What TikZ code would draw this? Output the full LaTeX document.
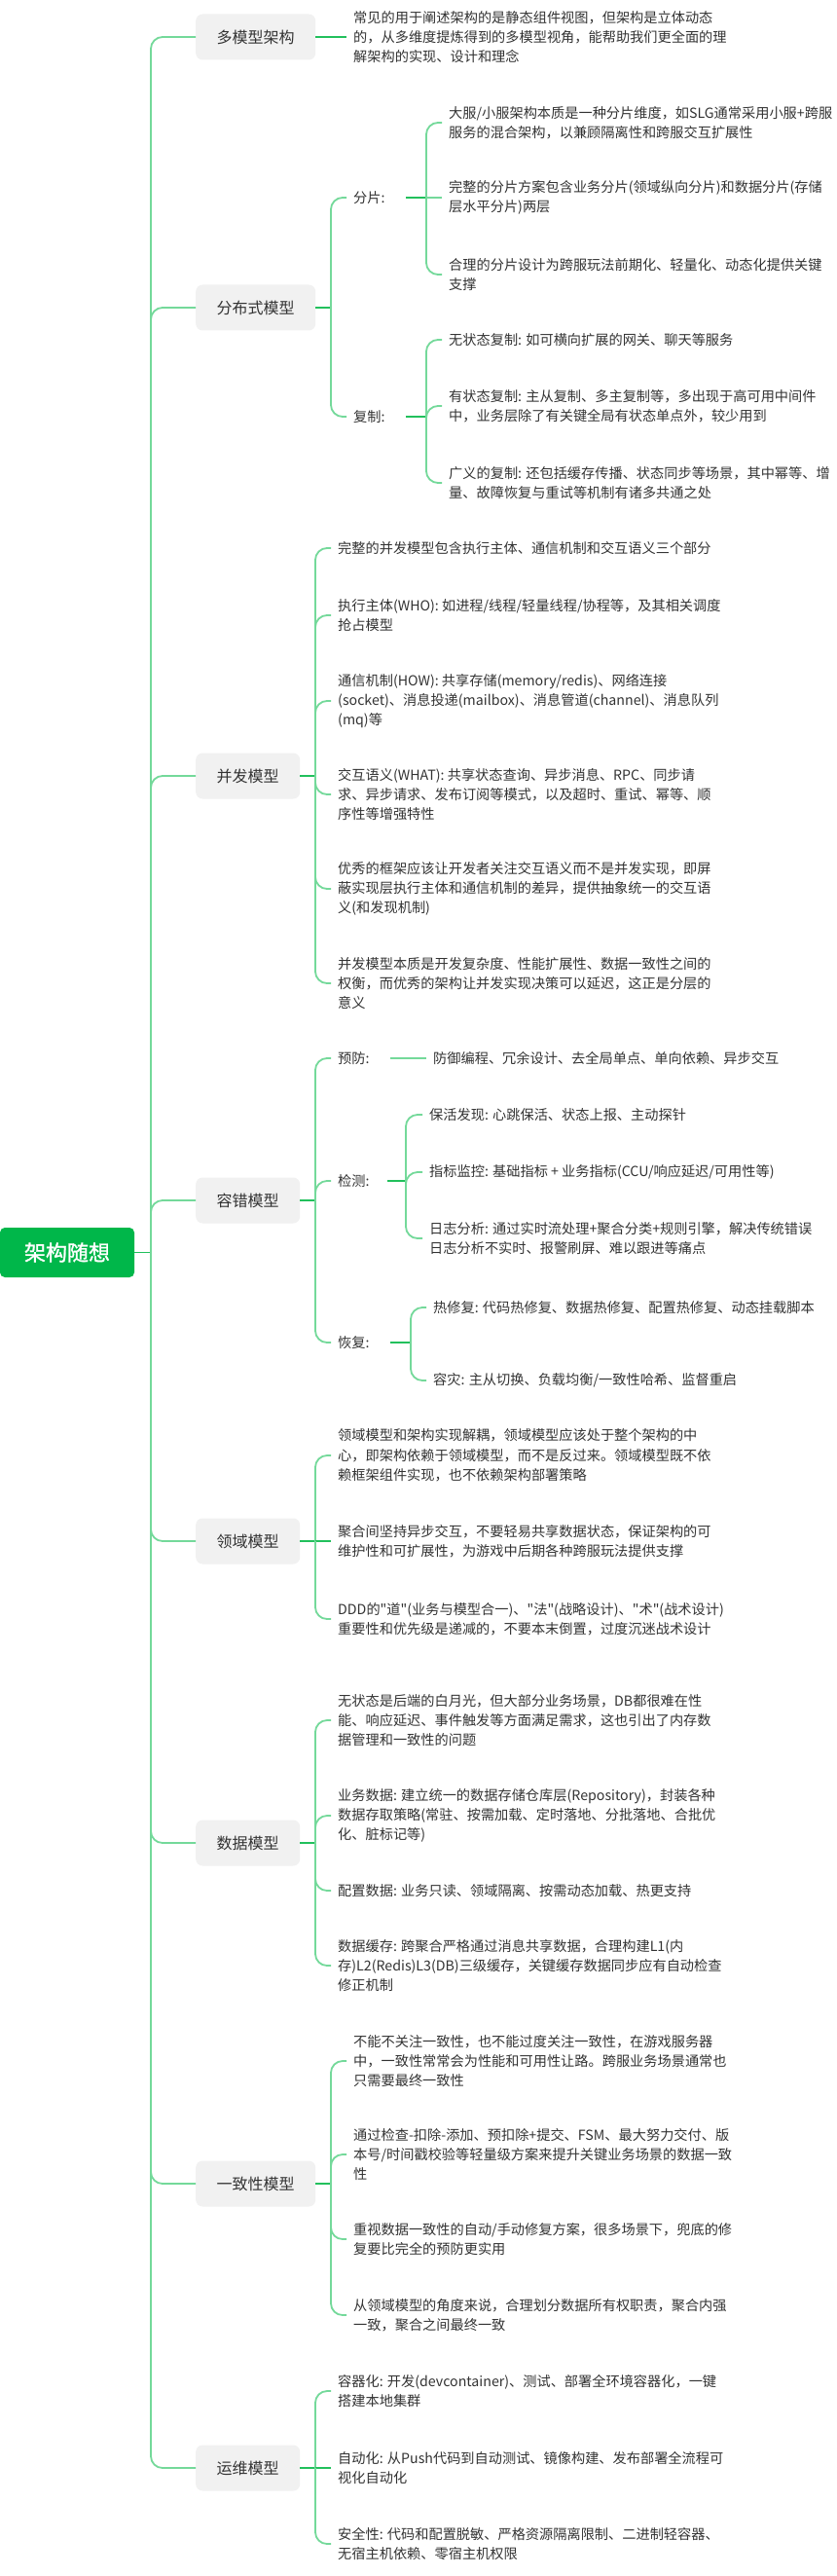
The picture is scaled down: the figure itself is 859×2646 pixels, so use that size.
\documentclass[tikz,border=0pt]{standalone}
\usepackage{fontspec}
\newfontfamily\cjk{Noto Sans CJK SC}
\newfontfamily\cjkb[FakeBold=1.2]{Noto Sans CJK SC}
\definecolor{txt}{HTML}{333333}
\definecolor{boxfill}{HTML}{F1F1F1}
\definecolor{rootg}{HTML}{00B74A}
\definecolor{darkg}{HTML}{22C05C}
\definecolor{lightg}{HTML}{74D99A}
\tikzset{
 leaf/.style={anchor=west, inner xsep=7pt, inner ysep=1pt, align=left, font=\cjk\fontsize{14.2}{20.3}\selectfont, text=txt},
 lab/.style={leaf, text width=47pt},
 topic/.style={anchor=west, fill=boxfill, rounded corners=7pt, minimum height=47pt, inner xsep=21.5pt, font=\cjk\fontsize{16}{20}\selectfont, text=txt},
 rootbox/.style={fill=rootg, rounded corners=5pt, minimum width=138pt, minimum height=51pt, font=\cjkb\fontsize{22}{26}\selectfont, text=white},
 link/.style={line width=1.8pt, draw=lightg, rounded corners=12pt},
 stub/.style={line width=1.8pt, draw=darkg},
}
\begin{document}
\begin{tikzpicture}[x=1pt,y=-1pt]
\useasboundingbox (0,0) rectangle (859,2646);
\fill[white] (0,0) rectangle (859,2646);

% root
\node[rootbox] (root) at (69,1286.5) {架构随想};
\coordinate (t) at (155,1286.5);

% level 1
\node[topic] (b1) at (201,38) {多模型架构};
\node[topic] (b2) at (201,316) {分布式模型};
\node[topic] (b3) at (201,797) {并发模型};
\node[topic] (b4) at (201,1233) {容错模型};
\node[topic] (b5) at (201,1583) {领域模型};
\node[topic] (b6) at (201,1893) {数据模型};
\node[topic] (b7) at (201,2243) {一致性模型};
\node[topic] (b8) at (201,2535) {运维模型};

\draw[stub] (root.east) -- (t);
\foreach \b in {b1,b2,b3,b4,b5,b6,b7,b8}{
  \draw[link] (t) |- (\b.west);
}

% 多模型架构
\node[leaf] (c11) at (356,38) {常见的用于阐述架构的是静态组件视图，但架构是立体动态\\的，从多维度提炼得到的多模型视角，能帮助我们更全面的理\\解架构的实现、设计和理念};
\draw[stub] (b1.east) -- (c11.west);

% 分布式模型
\coordinate (s2) at (340,316);
\draw[stub] (b2.east) -- (s2);
\node[lab] (l21) at (356,203) {分片:};
\node[lab] (l22) at (356,428) {复制:};
\draw[link] (s2) |- (l21.west);
\draw[link] (s2) |- (l22.west);
\coordinate (s21) at (438,203);
\coordinate (s22) at (438,428);
\draw[stub] (l21.east) -- (s21);
\draw[stub] (l22.east) -- (s22);
\node[leaf] (c211) at (454,126) {大服/小服架构本质是一种分片维度，如SLG通常采用小服+跨服\\服务的混合架构，以兼顾隔离性和跨服交互扩展性};
\node[leaf] (c212) at (454,203) {完整的分片方案包含业务分片(领域纵向分片)和数据分片(存储\\层水平分片)两层};
\node[leaf] (c213) at (454,282) {合理的分片设计为跨服玩法前期化、轻量化、动态化提供关键\\支撑};
\draw[link] (s21) |- (c211.west);
\draw[link] (s21) -- (c212.west);
\draw[link] (s21) |- (c213.west);
\node[leaf] (c221) at (454,349) {无状态复制: 如可横向扩展的网关、聊天等服务};
\node[leaf] (c222) at (454,417) {有状态复制: 主从复制、多主复制等，多出现于高可用中间件\\中，业务层除了有关键全局有状态单点外，较少用到};
\node[leaf] (c223) at (454,496) {广义的复制: 还包括缓存传播、状态同步等场景，其中幂等、增\\量、故障恢复与重试等机制有诸多共通之处};
\draw[link] (s22) |- (c221.west);
\draw[link] (s22) |- (c222.west);
\draw[link] (s22) |- (c223.west);

% 并发模型
\coordinate (s3) at (324,797);
\draw[stub] (b3.east) -- (s3);
\node[leaf] (c31) at (340,563) {完整的并发模型包含执行主体、通信机制和交互语义三个部分};
\node[leaf] (c32) at (340,632) {执行主体(WHO): 如进程/线程/轻量线程/协程等，及其相关调度\\抢占模型};
\node[leaf] (c33) at (340,720) {通信机制(HOW): 共享存储(memory/redis)、网络连接\\(socket)、消息投递(mailbox)、消息管道(channel)、消息队列\\(mq)等};
\node[leaf] (c34) at (340,816) {交互语义(WHAT): 共享状态查询、异步消息、RPC、同步请\\求、异步请求、发布订阅等模式，以及超时、重试、幂等、顺\\序性等增强特性};
\node[leaf] (c35) at (340,913) {优秀的框架应该让开发者关注交互语义而不是并发实现，即屏\\蔽实现层执行主体和通信机制的差异，提供抽象统一的交互语\\义(和发现机制)};
\node[leaf] (c36) at (340,1010) {并发模型本质是开发复杂度、性能扩展性、数据一致性之间的\\权衡，而优秀的架构让并发实现决策可以延迟，这正是分层的\\意义};
\foreach \c in {c31,c32,c33,c34,c35,c36}{
  \draw[link] (s3) |- (\c.west);
}

% 容错模型
\coordinate (s4) at (324,1233);
\draw[stub] (b4.east) -- (s4);
\node[lab] (l41) at (340,1087) {预防:};
\node[leaf,text width=44pt] (l42) at (340,1213) {检测:};
\node[lab] (l43) at (340,1379) {恢复:};
\draw[link] (s4) |- (l41.west);
\draw[link] (s4) |- (l42.west);
\draw[link] (s4) |- (l43.west);
\node[leaf] (c41) at (438,1087) {防御编程、冗余设计、去全局单点、单向依赖、异步交互};
\draw[link] (l41.east) -- (c41.west);
\coordinate (s42) at (417,1213);
\draw[stub] (l42.east) -- (s42);
\node[leaf] (c421) at (434,1145) {保活发现: 心跳保活、状态上报、主动探针};
\node[leaf] (c422) at (434,1204) {指标监控: 基础指标 + 业务指标(CCU/响应延迟/可用性等)};
\node[leaf] (c423) at (434,1272) {日志分析: 通过实时流处理+聚合分类+规则引擎，解决传统错误\\日志分析不实时、报警刷屏、难以跟进等痛点};
\draw[link] (s42) |- (c421.west);
\draw[link] (s42) |- (c422.west);
\draw[link] (s42) |- (c423.west);
\coordinate (s43) at (422,1379);
\draw[stub] (l43.east) -- (s43);
\node[leaf] (c431) at (438,1343) {热修复: 代码热修复、数据热修复、配置热修复、动态挂载脚本};
\node[leaf] (c432) at (438,1418) {容灾: 主从切换、负载均衡/一致性哈希、监督重启};
\draw[link] (s43) |- (c431.west);
\draw[link] (s43) |- (c432.west);

% 领域模型
\coordinate (s5) at (324,1583);
\draw[stub] (b5.east) -- (s5);
\node[leaf] (c51) at (340,1495) {领域模型和架构实现解耦，领域模型应该处于整个架构的中\\心，即架构依赖于领域模型，而不是反过来。领域模型既不依\\赖框架组件实现，也不依赖架构部署策略};
\node[leaf] (c52) at (340,1583) {聚合间坚持异步交互，不要轻易共享数据状态，保证架构的可\\维护性和可扩展性，为游戏中后期各种跨服玩法提供支撑};
\node[leaf] (c53) at (340,1663) {DDD的"道"(业务与模型合一)、"法"(战略设计)、"术"(战术设计)\\重要性和优先级是递减的，不要本末倒置，过度沉迷战术设计};
\draw[link] (s5) |- (c51.west);
\draw[stub] (s5) -- (c52.west);
\draw[link] (s5) |- (c53.west);

% 数据模型
\coordinate (s6) at (324,1893);
\draw[stub] (b6.east) -- (s6);
\node[leaf] (c61) at (340,1767) {无状态是后端的白月光，但大部分业务场景，DB都很难在性\\能、响应延迟、事件触发等方面满足需求，这也引出了内存数\\据管理和一致性的问题};
\node[leaf] (c62) at (340,1865) {业务数据: 建立统一的数据存储仓库层(Repository)，封装各种\\数据存取策略(常驻、按需加载、定时落地、分批落地、合批优\\化、脏标记等)};
\node[leaf] (c63) at (340,1942) {配置数据: 业务只读、领域隔离、按需动态加载、热更支持};
\node[leaf] (c64) at (340,2019) {数据缓存: 跨聚合严格通过消息共享数据，合理构建L1(内\\存)L2(Redis)L3(DB)三级缓存，关键缓存数据同步应有自动检查\\修正机制};
\foreach \c in {c61,c62,c63,c64}{
  \draw[link] (s6) |- (\c.west);
}

% 一致性模型
\coordinate (s7) at (340,2243);
\draw[stub] (b7.east) -- (s7);
\node[leaf] (c71) at (356,2117) {不能不关注一致性，也不能过度关注一致性，在游戏服务器\\中，一致性常常会为性能和可用性让路。跨服业务场景通常也\\只需要最终一致性};
\node[leaf] (c72) at (356,2213) {通过检查-扣除-添加、预扣除+提交、FSM、最大努力交付、版\\本号/时间戳校验等轻量级方案来提升关键业务场景的数据一致\\性};
\node[leaf] (c73) at (356,2300) {重视数据一致性的自动/手动修复方案，很多场景下，兜底的修\\复要比完全的预防更实用};
\node[leaf] (c74) at (356,2378) {从领域模型的角度来说，合理划分数据所有权职责，聚合内强\\一致，聚合之间最终一致};
\foreach \c in {c71,c72,c73,c74}{
  \draw[link] (s7) |- (\c.west);
}

% 运维模型
\coordinate (s8) at (324,2535);
\draw[stub] (b8.east) -- (s8);
\node[leaf] (c81) at (340,2456) {容器化: 开发(devcontainer)、测试、部署全环境容器化，一键\\搭建本地集群};
\node[leaf] (c82) at (340,2535) {自动化: 从Push代码到自动测试、镜像构建、发布部署全流程可\\视化自动化};
\node[leaf] (c83) at (340,2613) {安全性: 代码和配置脱敏、严格资源隔离限制、二进制轻容器、\\无宿主机依赖、零宿主机权限};
\draw[link] (s8) |- (c81.west);
\draw[stub] (s8) -- (c82.west);
\draw[link] (s8) |- (c83.west);
\end{tikzpicture}
\end{document}
